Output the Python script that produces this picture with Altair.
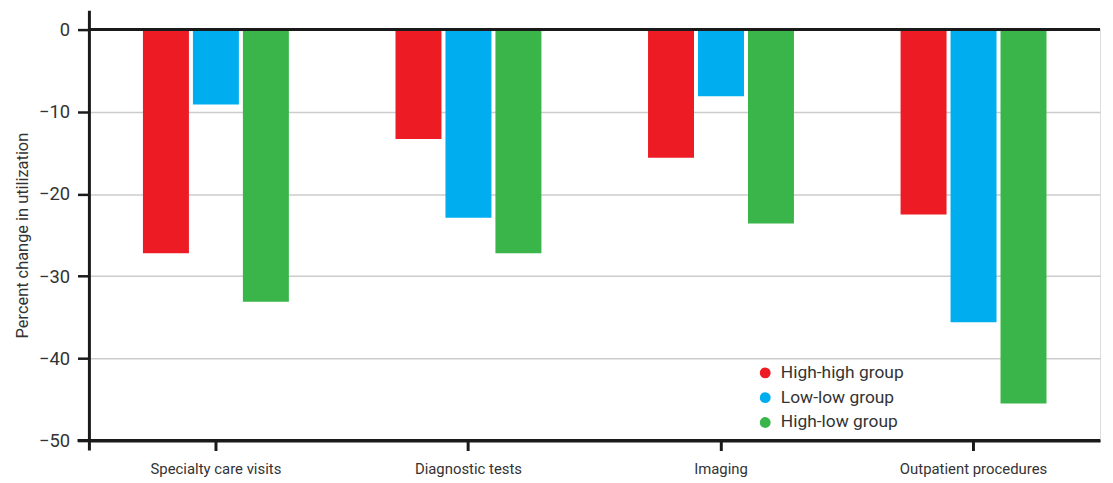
import altair as alt
import pandas as pd

categories = ["Specialty care visits", "Diagnostic tests", "Imaging", "Outpatient procedures"]
groups = ["High-high group", "Low-low group", "High-low group"]
high_high = [-27.2, -13.3, -15.6, -22.5]
low_low = [-9.1, -22.9, -8.1, -35.6]
high_low = [-33.1, -27.2, -23.6, -45.5]
colors = ["#ED1C24", "#00AEEF", "#39B54A"]
y_ticks = [0, -10, -20, -30, -40, -50]

rows = []
for g, vals in zip(groups, [high_high, low_low, high_low]):
    for c, v in zip(categories, vals):
        rows.append({"category": c, "group": g, "value": v})
df = pd.DataFrame(rows)

W, H = 1018, 414
FONT = "Roboto"

bars = alt.Chart(df).mark_bar().encode(
    x=alt.X("category:N", sort=categories, title=None,
            scale=alt.Scale(paddingInner=0.4222, paddingOuter=0.212),
            axis=alt.Axis(labelAngle=0, labelFontSize=15, labelColor="#333", labelFont=FONT,
                          domainColor="#1a1a1a", domainWidth=3, tickColor="#1a1a1a",
                          tickWidth=3, tickSize=10, labelPadding=11, grid=False)),
    xOffset=alt.XOffset("group:N", sort=groups,
                        scale=alt.Scale(paddingInner=0.08, paddingOuter=0)),
    y=alt.Y("value:Q", title="Percent change in utilization",
            scale=alt.Scale(domain=[-50, 0], nice=False, zero=True),
            axis=alt.Axis(values=y_ticks, format="d", labelFontSize=18.5, labelColor="#333",
                          labelFont=FONT, titleFont=FONT, titleFontSize=16.5,
                          titleFontWeight="normal", titleColor="#333", titlePadding=8,
                          domain=False, tickColor="#1a1a1a", tickWidth=2.5, tickSize=12,
                          labelPadding=8, gridColor="#cccccc", gridWidth=1.5)),
    color=alt.Color("group:N", sort=groups,
                    scale=alt.Scale(domain=groups, range=colors),
                    legend=alt.Legend(title=None, orient="none", legendX=672, legendY=337,
                                      symbolType="circle", symbolSize=120, symbolStrokeWidth=0,
                                      labelFontSize=17.5, labelFont=FONT, labelColor="#333",
                                      rowPadding=6, labelOffset=7)),
)

zero_line = alt.Chart(pd.DataFrame({"v": [0]})).mark_rule(color="#1a1a1a", strokeWidth=3).encode(
    y="v:Q", x=alt.value(0), x2=alt.value(W)
)
bottom_line = alt.Chart(pd.DataFrame({"v": [-50]})).mark_rule(color="#1a1a1a", strokeWidth=3).encode(
    y="v:Q", x=alt.value(-12), x2=alt.value(W)
)
y_axis_line = alt.Chart(pd.DataFrame({"v": [0]})).mark_rule(color="#1a1a1a", strokeWidth=3).encode(
    x=alt.value(0), y=alt.value(-19), y2=alt.value(H + 10)
)

chart = alt.layer(bars, zero_line, bottom_line, y_axis_line).properties(
    width=W, height=H,
    autosize=alt.AutoSizeParams(type="none"),
    padding={"left": 82, "top": 20, "right": 5, "bottom": 46},
).configure_view(stroke=None).configure(background="white")

chart.save("out.html", embed_options={"renderer": "svg", "actions": False})
